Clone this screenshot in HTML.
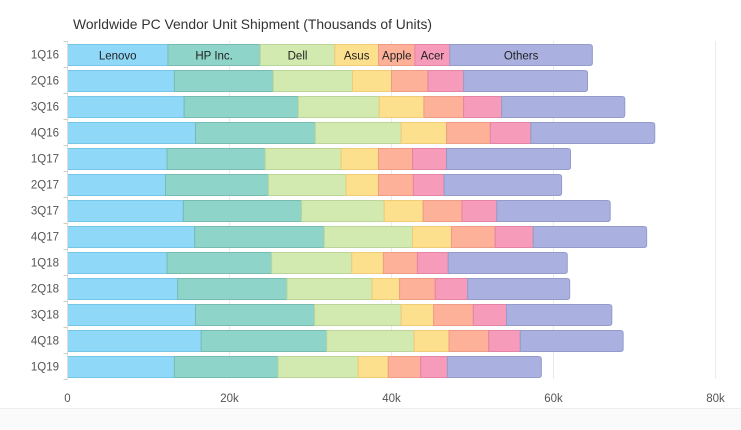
<!DOCTYPE html>
<html><head><meta charset="utf-8"><style>
body{margin:0;background:#fff;font-family:"Liberation Sans",sans-serif;}
svg{display:block}
</style></head><body>
<svg id="c" width="741" height="430">
<rect x="0" y="408" width="741" height="22" fill="#fafafa"/>
<line x1="0" y1="408.5" x2="741" y2="408.5" stroke="#eee"/>
<text x="73" y="29" font-size="14" fill="#333" textLength="359" lengthAdjust="spacingAndGlyphs">Worldwide PC Vendor Unit Shipment (Thousands of Units)</text>
<g id="grid"></g><g id="bars"></g><g id="axes"></g>
</svg>
<script>
const categories=["1Q16","2Q16","3Q16","4Q16","1Q17","2Q17","3Q17","4Q17","1Q18","2Q18","3Q18","4Q18","1Q19"];
const vendors=["Lenovo","HP Inc.","Dell","Asus","Apple","Acer","Others"];
const lenovo=[12.4,13.2,14.4,15.8,12.3,12.1,14.3,15.7,12.3,13.6,15.8,16.5,13.2];
const hp=[11.4,12.2,14.1,14.8,12.1,12.7,14.6,16.0,12.9,13.5,14.7,15.5,12.8];
const dell=[9.2,9.8,10.0,10.6,9.4,9.6,10.2,10.9,9.9,10.5,10.7,10.8,9.9];
const asus=[5.4,4.8,5.5,5.6,4.6,4.0,4.8,4.8,3.9,3.4,4.0,4.3,3.7];
const apple=[4.5,4.5,4.9,5.4,4.2,4.3,4.8,5.4,4.2,4.4,4.9,4.9,4.0];
const acer=[4.3,4.4,4.7,5.0,4.2,3.8,4.3,4.7,3.8,4.0,4.1,3.9,3.3];
const others=[17.6,15.3,15.2,15.3,15.3,14.5,14.0,14.0,14.7,12.6,13.0,12.7,11.6];
const xTicks=[0,20,40,60,80];
const xTickLabels=["0","20k","40k","60k","80k"];
const series=[lenovo,hp,dell,asus,apple,acer,others];
const fills=["#8fd8f8","#8ed4c8","#d2e9b0","#fde08e","#fdb198","#f69bb9","#aab1e0"];
const strokes=["#76c6ea","#76bcb2","#bcd69a","#f0cc74","#ee9c84","#e584a4","#949ccc"];
const NS="http://www.w3.org/2000/svg";
const x0=67.5,x1=715.5,xMax=80;
const X=v=>x0+v/xMax*(x1-x0);
const rowTop=41,rowH=26,barPad=3,barH=22;
const Y=i=>rowTop+i*rowH;
function mk(t,a,p){const e=document.createElementNS(NS,t);for(const k in a)e.setAttribute(k,a[k]);p.appendChild(e);return e;}
const grid=document.getElementById('grid'),bars=document.getElementById('bars'),axes=document.getElementById('axes');
xTicks.forEach((t,i)=>{
 if(i>0){const g=mk('line',{x1:X(t),x2:X(t),y1:rowTop,y2:Y(categories.length),stroke:'#ebebeb'},grid);
 
 }
 const tx=mk('text',{x:X(t),y:402,'font-size':11.5,fill:'#555','text-anchor':'middle'},axes);
 tx.textContent=xTickLabels[i];
 
 
});
const ax=mk('line',{x1:x0,x2:x0,y1:rowTop,y2:Y(categories.length),stroke:'#ddd'},axes);


for(let i=0;i<=categories.length;i++){
 const tk=mk('line',{x1:x0-4,x2:x0,y1:Y(i)+0.5,y2:Y(i)+0.5,stroke:'#ccc'},axes);
 
 
}
categories.forEach((c,i)=>{
 const tx=mk('text',{x:59,y:Y(i)+rowH/2+4.5,'font-size':11.5,fill:'#555','text-anchor':'end'},axes);
 tx.textContent=c;
 
 
 let cum=0;
 series.forEach((s,k)=>{
  const a=X(cum),b=X(cum+s[i]);cum+=s[i];
  const y=Y(i)+barPad;
  let r;
  if(k===series.length-1){
   const rr=3;
   r=mk('path',{d:`M${a},${y+0.5}H${b-rr}Q${b},${y+0.5} ${b},${y+rr}V${y+barH-rr}Q${b},${y+barH-0.5} ${b-rr},${y+barH-0.5}H${a}Z`,fill:fills[k],stroke:strokes[k]},bars);
  } else {
   r=mk('rect',{x:a,y:y+0.5,width:b-a,height:barH-1,fill:fills[k],stroke:strokes[k]},bars);
  }
  
  
  if(i===0){
   const t=mk('text',{x:(a+b)/2,y:y+barH/2+4.5,'font-size':11.5,fill:'#222','text-anchor':'middle'},bars);
   t.textContent=vendors[k];
   
   
  }
 });
});
</script>
</body></html>
